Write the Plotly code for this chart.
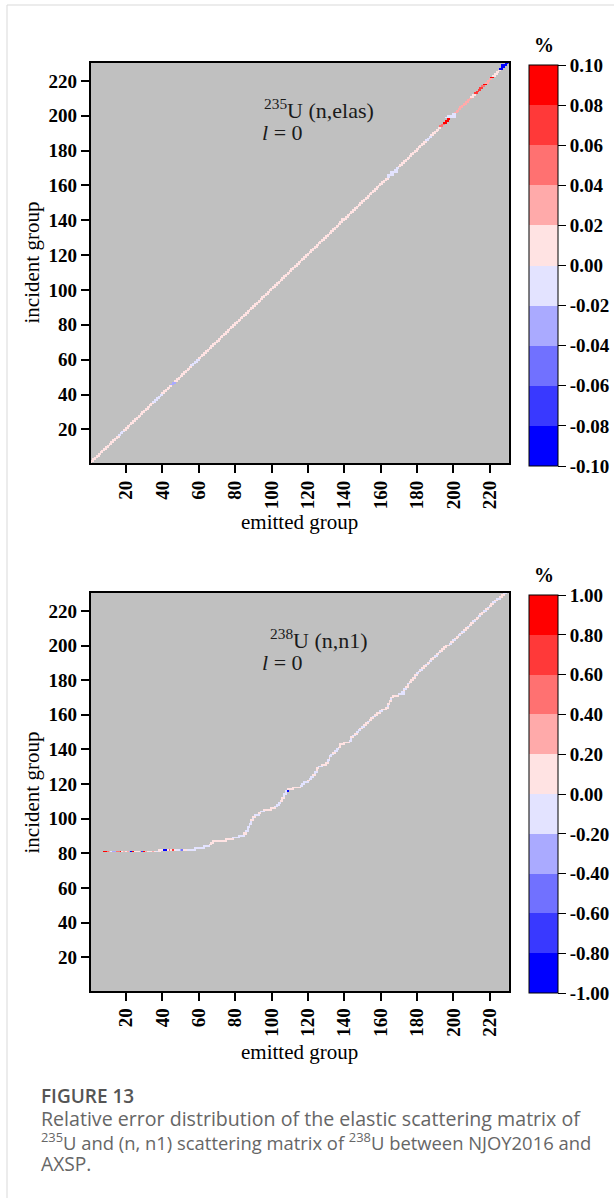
import plotly.graph_objects as go

W, H = 614, 1198
N = 230
groups = list(range(1, N + 1))

# ---------------- 235U (n,elas), l = 0 : relative error on the diagonal (%) ----------------
# runs of incident groups sharing one value: (first group, last group, value)
elas_first = [1, 17, 20, 36, 41, 46, 48, 57, 61, 165, 171, 186, 189, 194, 196, 199, 202, 211, 213, 217, 218, 219, 222, 223, 227]
elas_last = [16, 19, 35, 40, 45, 47, 56, 60, 164, 170, 185, 188, 193, 195, 198, 201, 210, 212, 216, 217, 218, 221, 222, 226, 230]
elas_value = [0.01, -0.01, 0.01, -0.01, 0.01, -0.03, 0.01, -0.01, 0.01, -0.01, 0.01, -0.01, 0.01, 0.05, 0.09, -0.01,
              0.03, 0.01, 0.07, 0.05, 0.09, 0.03, 0.09, 0.01, -0.09]
# wider blobs off the diagonal: (incident group, first emitted, last emitted, value)
elas_blob_row = [141, 166, 168, 197, 199, 200, 229]
elas_blob_c0 = [139, 164, 166, 196, 196, 197, 227]
elas_blob_c1 = [141, 167, 169, 197, 201, 201, 229]
elas_blob_val = [0.01, -0.01, -0.01, 0.09, -0.01, -0.01, -0.09]

# ---------------- 238U (n,n1), l = 0 ----------------
# threshold rows, one value per emitted group
n1_row81_first = 8
n1_row81 = [0.9, 0.9, 0.5, 0.3, -0.1, -0.3, -0.3, 0.5, 0.5, 0.9, 0.1, 0.3, 0.1, 0.3,
            -0.3, -0.9, 0.9, 0.1, 0.1, 0.1, 0.3, -0.7, 0.9, 0.3, 0.1, -0.1, 0.1, 0.3,
            0.1, -0.1, 0.1, 0.1]
n1_row82_first = 38
n1_row82 = [0.1, 0.1, 0.1, -0.9, -0.9, 0.1, 0.5, 0.1, 0.7, 0.1, -0.1, -0.1, -0.3, -0.5, 0.1,
            0.1, -0.1, -0.1, -0.1, -0.1, -0.1]
# incident groups 83..230: emitted-group span and value of each row
n1_rows = list(range(83, 231))
n1_c0 = [58, 63, 66, 67, 68, 75, 79, 82, 85, 85, 86, 87, 87, 88, 88, 89, 89, 90, 90, 91,
         93, 94, 96, 100, 102, 103, 104, 105, 106, 106, 107, 107, 108, 108, 109, 112, 116, 117, 118, 120,
         121, 122, 123, 124, 124, 125, 125, 126, 128, 130, 131, 131, 132, 132, 133, 134, 135, 136, 137, 138,
         138, 140, 143, 144, 144, 145, 146, 147, 148, 149, 150, 151, 152, 153, 154, 155, 156, 157, 158, 160,
         161, 163, 164, 164, 165, 165, 166, 166, 167, 170, 172, 173, 173, 174, 175, 175, 176, 177, 178, 179,
         179, 180, 181, 182, 183, 184, 185, 186, 187, 188, 189, 190, 191, 192, 193, 194, 195, 196, 198, 199,
         200, 201, 202, 203, 204, 205, 206, 207, 208, 209, 210, 211, 212, 213, 214, 215, 216, 217, 218, 219,
         220, 221, 222, 223, 224, 226, 227, 228]
n1_c1 = [63, 66, 67, 68, 75, 79, 82, 85, 86, 86, 87, 87, 88, 88, 89, 89, 90, 90, 91, 93,
         94, 96, 100, 102, 103, 104, 105, 106, 106, 107, 107, 108, 108, 109, 112, 116, 117, 118, 120, 121,
         122, 123, 124, 124, 125, 125, 126, 128, 130, 131, 131, 132, 132, 133, 134, 135, 136, 137, 138, 138,
         140, 143, 144, 144, 145, 146, 147, 148, 149, 150, 151, 152, 153, 154, 155, 156, 157, 158, 160, 161,
         163, 164, 164, 165, 165, 166, 166, 167, 170, 173, 173, 173, 174, 175, 175, 176, 177, 178, 179, 179,
         180, 181, 182, 183, 184, 185, 186, 187, 188, 189, 190, 191, 192, 193, 194, 195, 196, 198, 199, 200,
         201, 202, 203, 204, 205, 206, 207, 208, 209, 210, 211, 212, 213, 214, 215, 216, 217, 218, 219, 220,
         221, 222, 223, 224, 226, 227, 228, 229]
n1_value = [-0.1, -0.1, 0.1, 0.1, 0.1, 0.1, -0.1, -0.1,
            0.1, 0.1, -0.1, -0.1, -0.1, -0.1, -0.1, -0.1, 0.1, -0.1,
            0.1, -0.1, 0.1, -0.1, 0.1, 0.1, -0.1, -0.1, -0.1, 0.1,
            0.1, 0.1, -0.1, -0.1, -0.1, -0.1, 0.1, 0.1, -0.1, -0.1,
            -0.1, 0.1, -0.1, -0.1, 0.1, -0.1, -0.1, 0.1, 0.1, -0.1,
            0.1, 0.1, -0.1, -0.1, 0.1, -0.1, -0.1, 0.1, -0.1, -0.1,
            0.1, 0.1, 0.1, 0.1, -0.1, -0.1, 0.1, -0.1, 0.1, -0.1,
            -0.1, 0.1, -0.1, 0.1, 0.1, -0.1, 0.1, 0.1, -0.1, 0.1,
            0.1, -0.1, 0.1, 0.1, -0.1, 0.1, 0.1, 0.1, -0.1, 0.1,
            0.1, -0.1, -0.1, 0.1, -0.1, 0.1, 0.1, -0.1, 0.1, 0.1,
            0.1, -0.1, 0.1, -0.1, 0.1, -0.1, 0.1, 0.1, -0.1, 0.1,
            -0.1, 0.1, 0.1, -0.1, 0.1, -0.1, 0.1, 0.1, 0.1, 0.1,
            -0.1, 0.1, -0.1, 0.1, 0.1, -0.1, 0.1, -0.1, 0.1, 0.1,
            -0.1, 0.1, 0.1, -0.1, 0.1, 0.1, -0.1, 0.1, 0.1, -0.1,
            0.1, -0.1, 0.1, 0.1, -0.1, 0.1, -0.1, 0.1, 0.1, -0.1]
# single outlying cells: (incident group, emitted group, value)
n1_spot_row = [116]
n1_spot_col = [109]
n1_spot_val = [-0.9]

# colour bars
elas_ticks = [0.10, 0.08, 0.06, 0.04, 0.02, 0.00, -0.02, -0.04, -0.06, -0.08, -0.10]
n1_ticks = [1.00, 0.80, 0.60, 0.40, 0.20, 0.00, -0.20, -0.40, -0.60, -0.80, -1.00]
axis_ticks = [20, 40, 60, 80, 100, 120, 140, 160, 180, 200, 220]

band_colors = ['#0000ff', '#3939ff', '#7171ff', '#aaaaff', '#e3e3ff',
               '#ffe3e3', '#ffaaaa', '#ff7171', '#ff3939', '#ff0000']


def stepped_scale(colors):
    n = len(colors)
    scale = []
    for i, c in enumerate(colors):
        scale.append([i / n, c])
        scale.append([(i + 1) / n, c])
    return scale


def empty_matrix():
    return [[None] * N for _ in range(N)]


def put(z, row, col, val):
    if 1 <= row <= N and 1 <= col <= N:
        z[row - 1][col - 1] = val


# assemble the elastic matrix
z_elas = empty_matrix()
for a, b, v in zip(elas_first, elas_last, elas_value):
    for g in range(a, b + 1):
        put(z_elas, g, g, v)
        put(z_elas, g, g - 1, v)
for r, c0, c1, v in zip(elas_blob_row, elas_blob_c0, elas_blob_c1, elas_blob_val):
    for c in range(c0, c1 + 1):
        put(z_elas, r, c, v)

# assemble the inelastic matrix
z_n1 = empty_matrix()
for k, v in enumerate(n1_row81):
    put(z_n1, 81, n1_row81_first + k, v)
for k, v in enumerate(n1_row82):
    put(z_n1, 82, n1_row82_first + k, v)
for r, c0, c1, v in zip(n1_rows, n1_c0, n1_c1, n1_value):
    for c in range(c0, c1 + 1):
        put(z_n1, r, c, v)
for r, c, v in zip(n1_spot_row, n1_spot_col, n1_spot_val):
    put(z_n1, r, c, v)

SERIF = 'Liberation Serif'
bold19 = dict(family=SERIF, size=19, color='black', weight='bold')

# panel geometry in pixels
X0, X1 = 90.5, 508.9
TOP = (62.7, 463.3)
BOT = (592.7, 991.0)
CB_X = 529.4
CB_TOP = (65.0, 466.0)
CB_BOT = (595.0, 993.3)


def py(v):
    return 1 - v / H


def colorbar(span, ticks):
    return dict(
        x=CB_X / W, xanchor='left', xpad=0, ypad=0,
        y=py((span[0] + span[1]) / 2), yanchor='middle',
        len=(span[1] - span[0]) / H, lenmode='fraction',
        thickness=29, thicknessmode='pixels',
        outlinewidth=1, outlinecolor='black',
        ticks='outside', ticklen=8, tickwidth=1.2, tickcolor='black',
        tickvals=ticks, ticktext=['%.2f' % t for t in ticks],
        tickfont=bold19,
    )


fig = go.Figure()
fig.add_trace(go.Heatmap(
    x=groups, y=groups, z=z_elas, zmin=-0.1, zmax=0.1,
    colorscale=stepped_scale(band_colors), colorbar=colorbar(CB_TOP, elas_ticks),
    xaxis='x', yaxis='y', hoverongaps=False,
))
fig.add_trace(go.Heatmap(
    x=groups, y=groups, z=z_n1, zmin=-1.0, zmax=1.0,
    colorscale=stepped_scale(band_colors), colorbar=colorbar(CB_BOT, n1_ticks),
    xaxis='x2', yaxis='y2', hoverongaps=False,
))

axis_common = dict(
    range=[0.5, 230.5], tickvals=axis_ticks, ticks='outside', ticklen=8, tickwidth=1.5,
    tickcolor='black', showline=True, linewidth=1.5, linecolor='black', mirror=True,
    showgrid=False, zeroline=False, tickfont=bold19,
)

fig.update_layout(
    width=W, height=H, margin=dict(l=0, r=0, t=0, b=0),
    paper_bgcolor='white', plot_bgcolor='#c0c0c0', showlegend=False,
    xaxis=dict(axis_common, domain=[X0 / W, X1 / W], anchor='y', tickangle=-90),
    yaxis=dict(axis_common, domain=[py(TOP[1]), py(TOP[0])], anchor='x'),
    xaxis2=dict(axis_common, domain=[X0 / W, X1 / W], anchor='y2', tickangle=-90),
    yaxis2=dict(axis_common, domain=[py(BOT[1]), py(BOT[0])], anchor='x2'),
)

ann = []


def text(x, y, s, size, xanchor='center', yanchor='middle', color='#1a1a1a', family=SERIF,
         weight='normal', angle=0):
    ann.append(dict(x=x / W, y=py(y), xref='paper', yref='paper', text=s, showarrow=False,
                    xanchor=xanchor, yanchor=yanchor, textangle=angle,
                    font=dict(family=family, size=size, color=color, weight=weight)))


for top, title in ((0, '<sup>235</sup>U (n,elas)'), (530, '<sup>238</sup>U (n,n1)')):
    text(319, 109 + top, title, 22)
    text(260, 132.7 + top, '<i>l</i> = 0', 22, xanchor='left')
    text(31.5, 263 + top, 'incident group', 21, color='black', angle=-90)
    text(299.7, 521.7 + top, 'emitted group', 21, color='black')
    text(544, 45 + top, '%', 20, color='black', weight='bold')

CAP = 'Open Sans'
text(39, 1096, 'FIGURE 13', 19, xanchor='left', color='#555555', family=CAP, weight=600)
text(39, 1118, 'Relative error distribution of the elastic scattering matrix of', 19.6,
     xanchor='left', color='#666666', family=CAP)
text(39, 1141, '<sup>235</sup>U and (n, n1) scattering matrix of <sup>238</sup>U between NJOY2016 and', 18.4,
     xanchor='left', color='#666666', family=CAP)
text(39, 1163, 'AXSP.', 19.2, xanchor='left', color='#666666', family=CAP)

fig.update_layout(annotations=ann)

# page frame rules
fig.add_shape(type='line', xref='paper', yref='paper', x0=7 / W, x1=7 / W, y0=0, y1=py(5),
              line=dict(color='#d9d9d9', width=1))
fig.add_shape(type='line', xref='paper', yref='paper', x0=7 / W, x1=1, y0=py(5), y1=py(5),
              line=dict(color='#d9d9d9', width=1))

fig.write_html('out.html')
